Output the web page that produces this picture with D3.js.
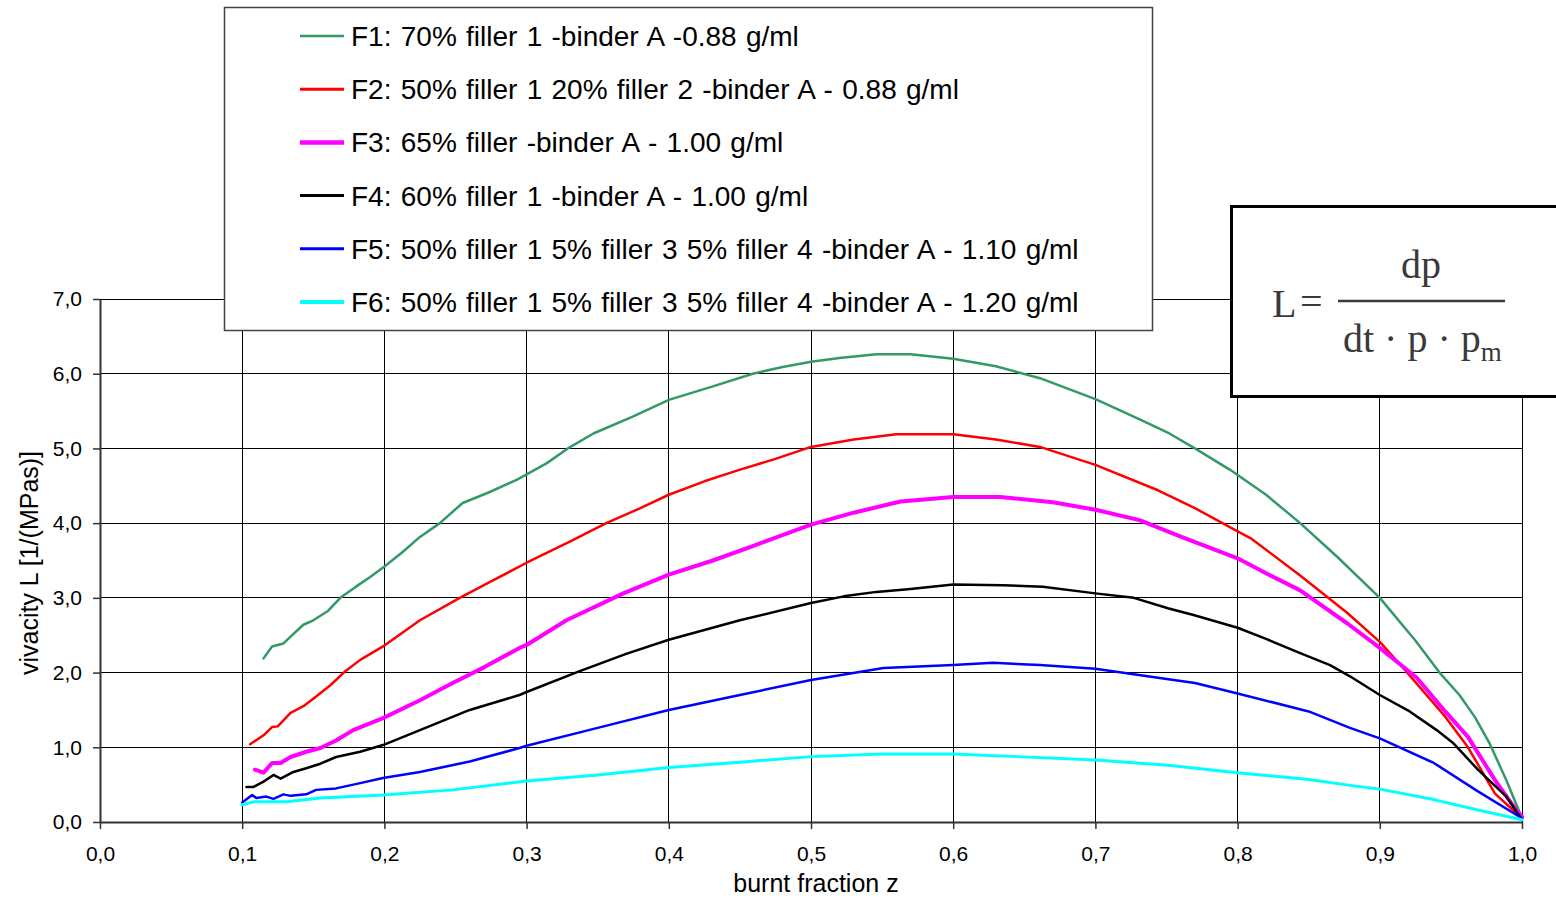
<!DOCTYPE html>
<html>
<head>
<meta charset="utf-8">
<script src="https://cdn.jsdelivr.net/npm/d3@7"></script>
<style>
  html, body { margin: 0; padding: 0; background: #fff; }
  svg { display: block; }
  text { font-family: "Liberation Sans", Arial, sans-serif; }
</style>
</head>
<body>
<svg id="chart" width="1556" height="898"></svg>
<script>
// ---------------- data ----------------
const seriesNames = [
  "F1: 70% filler 1 -binder A -0.88 g/ml",
  "F2: 50% filler 1 20% filler 2 -binder A - 0.88 g/ml",
  "F3: 65% filler -binder A - 1.00 g/ml",
  "F4: 60% filler 1 -binder A - 1.00 g/ml",
  "F5: 50% filler 1 5% filler 3 5% filler 4 -binder A - 1.10 g/ml",
  "F6: 50% filler 1 5% filler 3 5% filler 4 -binder A - 1.20 g/ml"
];
const seriesColors = ["#339966", "#ff0000", "#ff00ff", "#000000", "#0000ff", "#00ffff"];

const f1Z = [0.115,0.121,0.129,0.134,0.143,0.150,0.160,0.169,0.180,0.190,0.200,0.212,0.224,0.239,0.255,0.272,0.293,0.314,0.329,0.347,0.375,0.400,0.431,0.459,0.480,0.500,0.520,0.546,0.570,0.600,0.630,0.661,0.700,0.730,0.752,0.770,0.795,0.820,0.844,0.870,0.900,0.925,0.942,0.956,0.967,0.977,0.989,1.000];
const f1L = [2.19,2.35,2.39,2.48,2.64,2.70,2.82,3.00,3.15,3.28,3.42,3.60,3.80,4.00,4.27,4.40,4.58,4.80,5.00,5.20,5.43,5.65,5.83,6.00,6.09,6.16,6.21,6.26,6.26,6.20,6.10,5.94,5.66,5.40,5.20,5.00,4.71,4.38,4.00,3.55,3.00,2.43,2.00,1.70,1.40,1.06,0.56,0.05];

const f2Z = [0.1055,0.115,0.121,0.125,0.134,0.143,0.152,0.162,0.172,0.183,0.199,0.225,0.253,0.275,0.300,0.330,0.356,0.380,0.400,0.425,0.449,0.475,0.500,0.530,0.560,0.600,0.630,0.661,0.700,0.744,0.770,0.800,0.809,0.844,0.877,0.900,0.917,0.946,0.962,0.981,0.996,1.000];
const f2L = [1.04,1.16,1.27,1.28,1.46,1.55,1.68,1.83,2.01,2.17,2.35,2.70,3.00,3.22,3.47,3.75,4.00,4.20,4.38,4.56,4.71,4.86,5.02,5.12,5.19,5.19,5.12,5.02,4.78,4.44,4.20,3.89,3.80,3.30,2.80,2.41,2.05,1.41,1.00,0.38,0.12,0.05];

const f3Z = [0.109,0.115,0.121,0.127,0.134,0.145,0.155,0.166,0.178,0.199,0.225,0.248,0.270,0.295,0.300,0.328,0.368,0.400,0.431,0.460,0.500,0.530,0.563,0.600,0.633,0.670,0.700,0.731,0.760,0.800,0.820,0.844,0.877,0.900,0.926,0.946,0.962,0.981,0.996,1.000];
const f3L = [0.70,0.66,0.79,0.79,0.87,0.94,0.99,1.09,1.23,1.39,1.63,1.86,2.07,2.33,2.37,2.70,3.06,3.31,3.50,3.70,3.98,4.14,4.29,4.35,4.35,4.28,4.18,4.04,3.82,3.53,3.33,3.10,2.66,2.33,1.93,1.48,1.14,0.56,0.16,0.07];

const f4Z = [0.103,0.108,0.115,0.122,0.127,0.136,0.145,0.155,0.166,0.183,0.199,0.225,0.260,0.295,0.300,0.336,0.370,0.400,0.450,0.500,0.523,0.546,0.570,0.600,0.635,0.663,0.700,0.727,0.751,0.769,0.800,0.820,0.844,0.865,0.879,0.900,0.921,0.940,0.952,0.969,0.989,1.000];
const f4L = [0.47,0.47,0.54,0.63,0.58,0.67,0.72,0.78,0.87,0.94,1.03,1.23,1.50,1.70,1.74,2.01,2.25,2.44,2.70,2.93,3.02,3.08,3.12,3.18,3.17,3.15,3.06,3.00,2.86,2.77,2.60,2.45,2.26,2.10,1.95,1.70,1.48,1.23,1.05,0.70,0.34,0.03];

const f5Z = [0.100,0.107,0.110,0.117,0.122,0.129,0.134,0.145,0.152,0.166,0.183,0.199,0.225,0.260,0.295,0.300,0.350,0.400,0.450,0.500,0.551,0.600,0.628,0.661,0.700,0.744,0.770,0.800,0.850,0.879,0.900,0.938,0.969,1.000];
const f5L = [0.26,0.36,0.32,0.34,0.31,0.37,0.35,0.37,0.43,0.45,0.52,0.59,0.67,0.81,0.99,1.02,1.26,1.50,1.70,1.90,2.06,2.10,2.13,2.10,2.05,1.93,1.86,1.72,1.48,1.26,1.12,0.79,0.41,0.05];

const f6Z = [0.100,0.108,0.131,0.155,0.199,0.248,0.300,0.350,0.400,0.450,0.500,0.550,0.600,0.645,0.700,0.751,0.800,0.850,0.879,0.900,0.938,0.969,1.000];
const f6L = [0.23,0.27,0.27,0.32,0.36,0.43,0.55,0.63,0.73,0.80,0.875,0.91,0.91,0.875,0.83,0.76,0.66,0.57,0.49,0.44,0.30,0.16,0.03];

const xTicks = [0,0.1,0.2,0.3,0.4,0.5,0.6,0.7,0.8,0.9,1.0];
const yTicks = [0,1,2,3,4,5,6,7];
const xTitle = "burnt fraction z";
const yTitle = "vivacity L [1/(MPas)]";

// ---------------- drawing ----------------
const seriesZ = [f1Z, f2Z, f3Z, f4Z, f5Z, f6Z];
const seriesL = [f1L, f2L, f3L, f4L, f5L, f6L];
const lineWidths = [2.5, 2.5, 4, 2.5, 2.5, 3];
const legendWidths = [2.5, 3, 4.5, 3, 3, 4];

const svg = d3.select("#chart");
const x = d3.scaleLinear().domain([0, 1]).range([100, 1522]);
const y = d3.scaleLinear().domain([0, 7]).range([822, 299]);
const fmt = d => d.toFixed(1).replace(".", ",");

// gridlines
const grid = svg.append("g");
grid.selectAll("line.h").data(yTicks.filter(d => d > 0)).join("line")
  .attr("x1", x(0)).attr("x2", x(1))
  .attr("y1", d => y(d)).attr("y2", d => y(d))
  .attr("stroke", "#000").attr("stroke-width", 1).attr("shape-rendering", "crispEdges");
grid.selectAll("line.v").data(xTicks.filter(d => d > 0)).join("line")
  .attr("y1", y(0)).attr("y2", y(7))
  .attr("x1", d => x(d)).attr("x2", d => x(d))
  .attr("stroke", "#000").attr("stroke-width", 1).attr("shape-rendering", "crispEdges");

// axes
const xAxis = svg.append("g").attr("transform", `translate(0,${y(0)})`)
  .call(d3.axisBottom(x).tickValues(xTicks).tickFormat(fmt).tickSize(7).tickSizeOuter(0).tickPadding(17));
const yAxis = svg.append("g").attr("transform", `translate(${x(0)},0)`)
  .call(d3.axisLeft(y).tickValues(yTicks).tickFormat(fmt).tickSize(7).tickSizeOuter(0).tickPadding(11));
[xAxis, yAxis].forEach(a => {
  a.select(".domain").attr("stroke", "#333").attr("stroke-width", 2);
  a.selectAll(".tick line").attr("stroke", "#333").attr("stroke-width", 1.5);
  a.selectAll(".tick text").attr("fill", "#000")
    .style("font-family", "'Liberation Sans', Arial, sans-serif").style("font-size", "21px");
});

// axis titles
svg.append("text").attr("x", 816).attr("y", 892).attr("text-anchor", "middle")
  .style("font-size", "25px").attr("fill", "#000").text(xTitle);
svg.append("text").attr("transform", "translate(38,563) rotate(-90)").attr("text-anchor", "middle")
  .style("font-size", "25px").attr("fill", "#000").text(yTitle);

// series lines
const line = d3.line().x(d => x(d[0])).y(d => y(d[1])).curve(d3.curveLinear);
seriesZ.forEach((zs, i) => {
  const pts = zs.map((z, j) => [z, seriesL[i][j]]);
  svg.append("path").datum(pts).attr("d", line)
    .attr("fill", "none").attr("stroke", seriesColors[i])
    .attr("stroke-width", lineWidths[i]).attr("stroke-linejoin", "round").attr("stroke-linecap", "round");
});

// legend
const lg = svg.append("g");
lg.append("rect").attr("x", 224.5).attr("y", 7.5).attr("width", 928).attr("height", 323)
  .attr("fill", "#fff").attr("stroke", "#444").attr("stroke-width", 1.5);
seriesNames.forEach((name, i) => {
  const cy = 36 + i * 53.2;
  lg.append("line").attr("x1", 300).attr("x2", 344).attr("y1", cy).attr("y2", cy)
    .attr("stroke", seriesColors[i]).attr("stroke-width", legendWidths[i]);
  lg.append("text").attr("x", 351).attr("y", cy + 10)
    .style("font-size", "28px").style("word-spacing", "1.5px").attr("fill", "#000").text(name);
});

// formula box
const fb = svg.append("g");
fb.append("rect").attr("x", 1231.5).attr("y", 206.5).attr("width", 400).attr("height", 190)
  .attr("fill", "#fff").attr("stroke", "#000").attr("stroke-width", 3);
const serif = "'Liberation Serif', 'Times New Roman', serif";
const fcol = "#3a3a3a";
fb.append("text").attr("x", 1272).attr("y", 317).style("font-family", serif).style("font-size", "40px")
  .attr("fill", fcol).text("L");
fb.append("text").attr("x", 1300).attr("y", 315).style("font-family", serif).style("font-size", "40px")
  .attr("fill", fcol).text("=");
fb.append("line").attr("x1", 1338).attr("x2", 1505).attr("y1", 301).attr("y2", 301)
  .attr("stroke", fcol).attr("stroke-width", 2.5);
fb.append("text").attr("x", 1421).attr("y", 278).attr("text-anchor", "middle")
  .style("font-family", serif).style("font-size", "40px").attr("fill", fcol).text("dp");
const den = fb.append("text").attr("x", 1343).attr("y", 352)
  .style("font-family", serif).style("font-size", "40px").attr("fill", fcol);
den.append("tspan").text("dt \u00b7 p \u00b7 p");
den.append("tspan").attr("dy", 9).style("font-size", "27px").text("m");
</script>
</body>
</html>
